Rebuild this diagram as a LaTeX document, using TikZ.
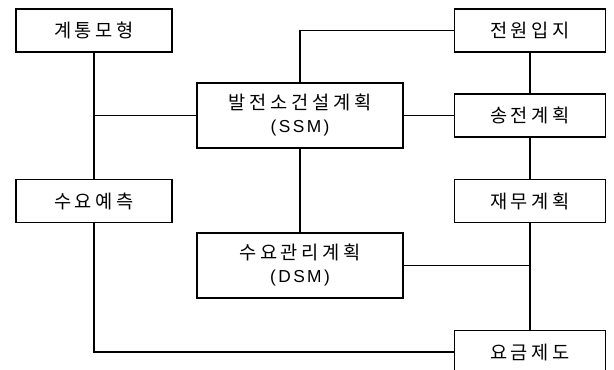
\documentclass[tikz,border=0pt]{standalone}
\usepackage{fontspec}
\setmainfont{Liberation Sans}[LetterSpace=14]
\newfontfamily\kr{Noto Sans CJK KR}[LetterSpace=20]
\newcommand{\lat}[1]{{\rmfamily\fontsize{13pt}{17.25pt}\selectfont #1}}
\begin{document}
\begin{tikzpicture}[x=0.75pt,y=-0.75pt,
  box/.style={draw,line width=1.3pt,rectangle,inner sep=0pt,font=\fontsize{14pt}{17.25pt}\selectfont,align=center},
  sbox/.style={box,minimum width=156*0.75pt,minimum height=43*0.75pt},
  bbox/.style={box,minimum width=206*0.75pt,minimum height=65*0.75pt},
  link/.style={line width=1.2pt}]
\useasboundingbox (0,0) rectangle (614,369);
\clip (0,0) rectangle (614,369);
\node[sbox] (gt) at (94,30.5) {\kr 계통모형};
\node[sbox] (sy) at (94,201) {\kr 수요예측};
\node[bbox] (ssm) at (300,115.5) {\kr 발전소건설계획\\\lat{(SSM)}};
\node[bbox] (dsm) at (300,265.5) {\kr 수요관리계획\\\lat{(DSM)}};
\node[sbox,minimum width=151*0.75pt] (jw) at (530,30.5) {\kr 전원입지};
\node[sbox,minimum width=151*0.75pt] (sj) at (530,115.5) {\kr 송전계획};
\node[sbox,minimum width=151*0.75pt] (jm) at (530,201) {\kr 재무계획};
\node[sbox,minimum width=151*0.75pt] (yg) at (530,352) {\kr 요금제도};
\coordinate (a) at (94,115.5);
\draw[link] (gt) -- (sy);
\draw[link] (a) -- (a -| ssm.west);
\draw[link] (ssm.north) |- (jw.west);
\draw[link] (ssm.east) -- (sj.west);
\draw[link] (jw) -- (sj);
\draw[link] (sj) -- (jm);
\draw[link] (jm) -- (yg);
\draw[link] (ssm) -- (dsm);
\draw[link] (dsm.east) -- (dsm.east -| jm.south);
\draw[link] (sy.south) |- (yg.west);
\end{tikzpicture}
\end{document}
